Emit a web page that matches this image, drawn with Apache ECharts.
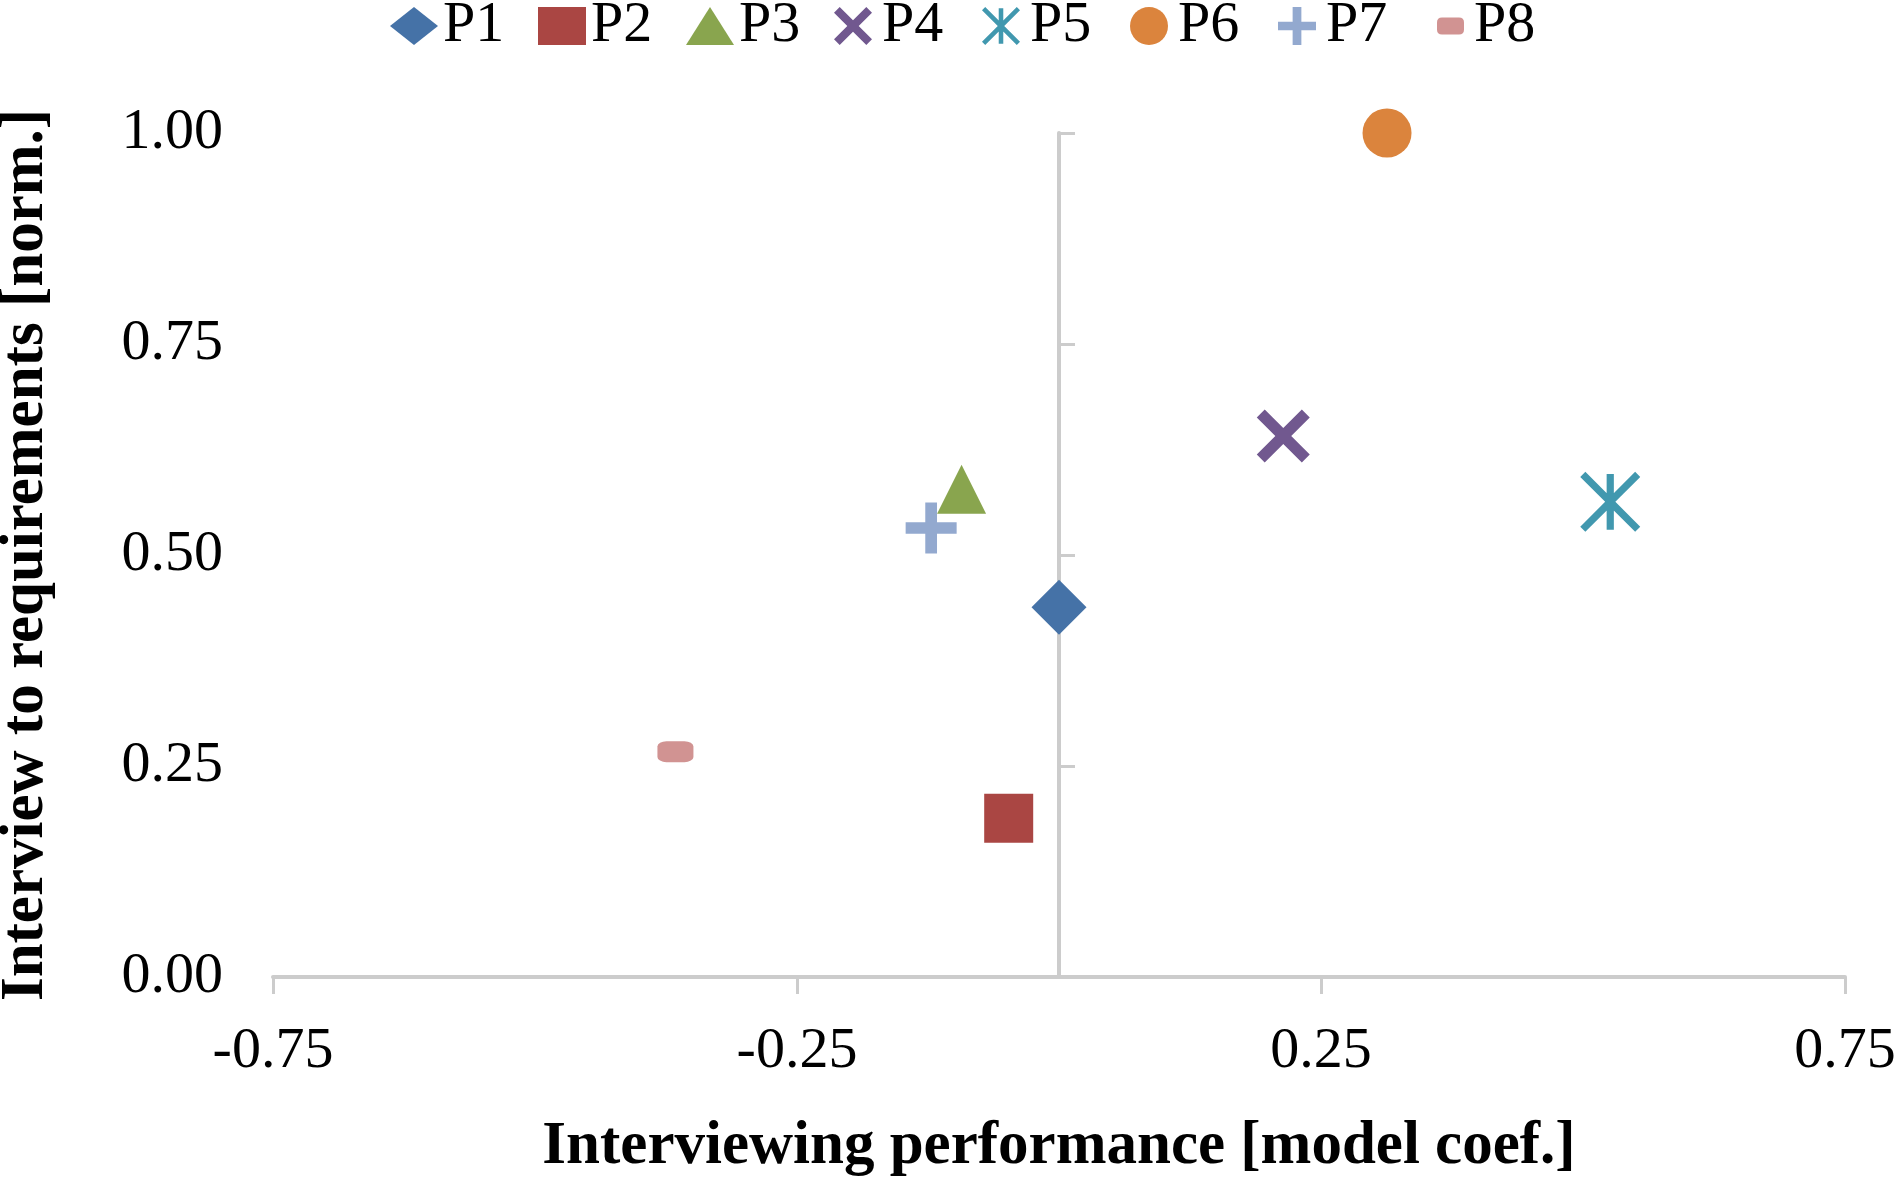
<!DOCTYPE html>
<html>
<head>
<meta charset="utf-8">
<title>Interviewing performance vs. interview to requirements</title>
<script src="https://cdn.jsdelivr.net/npm/echarts@6/dist/echarts.min.js"></script>
<style>
  html, body { margin: 0; padding: 0; background: #fff; }
  #chart { width: 1895px; height: 1178px; }
</style>
</head>
<body>
<div id="chart"></div>
<script>
// participants and their values
var names = ['P1', 'P2', 'P3', 'P4', 'P5', 'P6', 'P7', 'P8'];
var perfValues = [0.000, -0.048, -0.093, 0.214, 0.526, 0.313, -0.122, -0.366]; // model coef.
var reqValues = [0.438, 0.188, 0.578, 0.641, 0.563, 1.000, 0.532, 0.267];     // norm.

// tick labels
var xTicks = [-0.75, -0.25, 0.25, 0.75];
var yTicks = [0.00, 0.25, 0.50, 0.75, 1.00];

var FONT = "'Liberation Serif', 'Times New Roman', serif";
var AXIS_GREY = '#cccccc';

// excel-like marker look
var colors = ['#4572A7', '#AA4643', '#89A54E', '#71588F', '#4198AF', '#DB843D', '#93A9CF', '#D19392'];
var crossPath = 'path://M0,15L15,0L50,35L85,0L100,15L65,50L100,85L85,100L50,65L15,100L0,85L35,50Z';
var starPath = 'path://M0,8.5L8.5,0L50,41.5L91.5,0L100,8.5L58.5,50L100,91.5L91.5,100L50,58.5L8.5,100L0,91.5L41.5,50Z' +
  'M44,3.5L56,3.5L56,96.5L44,96.5Z';
var plusPath = 'path://M38.5,0L61.5,0L61.5,38.5L100,38.5L100,61.5L61.5,61.5L61.5,100L38.5,100L38.5,61.5L0,61.5L0,38.5L38.5,38.5Z';
var markerSymbols = ['diamond', 'rect', 'triangle', crossPath, starPath, 'circle', plusPath, 'roundRect'];
var markerSizes = [55, 49, 49, 53, 60, 49, 51, [36, 21]];
// P8's legend icon is a small pill sitting right of centre in the 38px box
var smallPill = 'path://M0,0M38,38M16,10.5L33,10.5Q38,10.5 38,15.5L38,22.5Q38,27.5 33,27.5' +
  'L16,27.5Q11,27.5 11,22.5L11,15.5Q11,10.5 16,10.5Z';
var legendIcons = markerSymbols.slice(0, 7).concat([smallPill]);

var chart = echarts.init(document.getElementById('chart'), null, { renderer: 'canvas' });

var series = names.map(function (name, i) {
  return {
    name: name,
    type: 'scatter',
    xAxisIndex: 0,
    yAxisIndex: 0,
    symbol: markerSymbols[i],
    symbolSize: markerSizes[i],
    itemStyle: { color: colors[i], opacity: 1 },
    data: [[perfValues[i], reqValues[i]]],
    z: 5
  };
});

// one legend per entry so the spacing stays even (148px per item)
var legends = names.map(function (name, i) {
  return {
    left: 390 + i * 148,
    top: -3,
    padding: 0,
    itemWidth: 48,
    itemHeight: 38,
    symbolKeepAspect: true,
    data: [{ name: name, icon: legendIcons[i] }],
    textStyle: { fontFamily: FONT, fontSize: 58, color: '#000', lineHeight: 40 }
  };
});

var option = {
  animation: false,
  backgroundColor: '#ffffff',
  textStyle: { fontFamily: FONT, color: '#000' },
  legend: legends,
  grid: { left: 273, right: 50, top: 133, bottom: 201, outerBoundsMode: 'none' },
  xAxis: {
    type: 'value',
    min: xTicks[0],
    max: xTicks[xTicks.length - 1],
    interval: xTicks[1] - xTicks[0],
    name: 'Interviewing performance [model coef.]',
    nameLocation: 'middle',
    nameGap: 140,
    nameTextStyle: { fontFamily: FONT, fontSize: 61, fontWeight: 'bold', color: '#000' },
    axisLine: { show: true, onZero: false, lineStyle: { color: AXIS_GREY, width: 4 } },
    axisTick: { show: true, length: 17, lineStyle: { color: AXIS_GREY, width: 3 } },
    axisLabel: {
      fontFamily: FONT, fontSize: 58, color: '#000', margin: 46,
      formatter: function (v) { return v.toFixed(2); }
    },
    splitLine: { show: false }
  },
  yAxis: [{
    // labels and title sit at the left edge
    type: 'value',
    position: 'left',
    min: yTicks[0],
    max: yTicks[yTicks.length - 1],
    interval: yTicks[1] - yTicks[0],
    name: 'Interview to requirements [norm.]',
    nameLocation: 'middle',
    nameGap: 216,
    nameTextStyle: { fontFamily: FONT, fontSize: 61, fontWeight: 'bold', color: '#000' },
    axisLine: { show: false, onZero: false },
    axisTick: { show: false },
    axisLabel: {
      fontFamily: FONT, fontSize: 58, color: '#000', margin: 50,
      formatter: function (v) { return v.toFixed(2); }
    },
    splitLine: { show: false }
  }, {
    // the vertical line crossing at x = 0
    type: 'value',
    position: 'left',
    min: yTicks[0],
    max: yTicks[yTicks.length - 1],
    interval: yTicks[1] - yTicks[0],
    axisLine: { show: true, onZero: true, lineStyle: { color: AXIS_GREY, width: 4 } },
    axisTick: { show: true, inside: true, length: 16, lineStyle: { color: AXIS_GREY, width: 3 } },
    axisLabel: { show: false },
    splitLine: { show: false }
  }],
  series: series
};

chart.setOption(option);
</script>
</body>
</html>
